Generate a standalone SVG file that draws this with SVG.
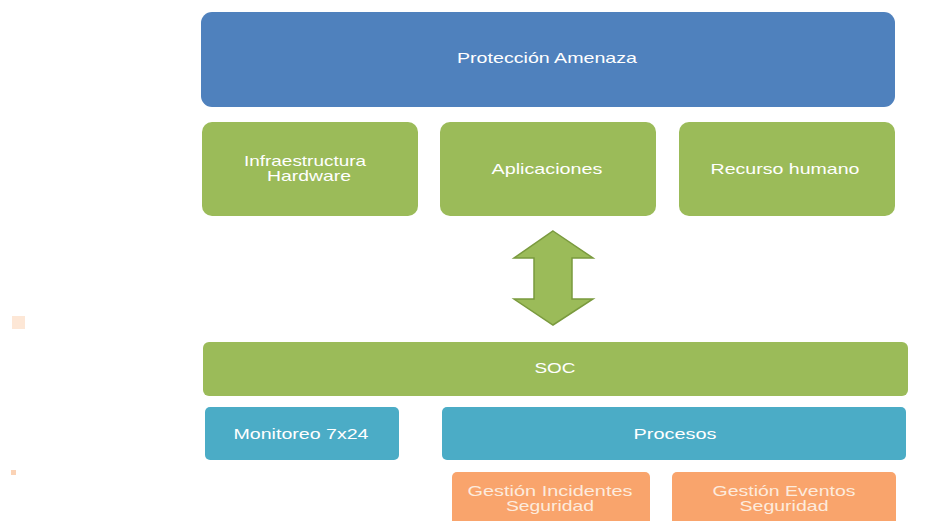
<svg xmlns="http://www.w3.org/2000/svg" width="949" height="521" viewBox="0 0 949 521">
<style>
.t{font-family:"Liberation Sans",Arial,sans-serif;font-size:14.5px;fill:#ffffff;text-anchor:middle}
.o{fill:#fdebdd}
.blue{fill:#4f81bd}.green{fill:#9bbb59}.cyan{fill:#4bacc6}.orange{fill:#f9a46c}
</style>
<rect width="949" height="521" fill="#ffffff"/>
<rect x="12" y="316" width="13" height="13" fill="#fde7d6"/>
<rect x="11" y="470" width="5" height="5" fill="#fbd3b6"/>
<g id="proteccion"><rect class="blue" x="201" y="12" width="694" height="95" rx="11"/><text class="t" x="547" y="63" textLength="180" lengthAdjust="spacingAndGlyphs">Protección Amenaza</text></g>
<g id="infraestructura"><rect class="green" x="202" y="122" width="216" height="94" rx="10"/><text class="t" x="305" y="166" textLength="122" lengthAdjust="spacingAndGlyphs">Infraestructura</text><text class="t" x="309" y="181" textLength="84" lengthAdjust="spacingAndGlyphs">Hardware</text></g>
<g id="aplicaciones"><rect class="green" x="440" y="122" width="216" height="94" rx="10"/><text class="t" x="547" y="174" textLength="111" lengthAdjust="spacingAndGlyphs">Aplicaciones</text></g>
<g id="recurso"><rect class="green" x="679" y="122" width="216" height="94" rx="10"/><text class="t" x="785" y="174" textLength="149" lengthAdjust="spacingAndGlyphs">Recurso humano</text></g>
<g id="connectors"><polygon class="green" stroke="#7a9a3e" stroke-width="1.5" points="553,231 593,258 572,258 572,299 593,299 553,325 514,299 534,299 534,258 514,258"/></g>
<g id="soc"><rect class="green" x="203" y="342" width="705" height="54" rx="6"/><text class="t" x="555" y="373" textLength="41" lengthAdjust="spacingAndGlyphs">SOC</text></g>
<g id="monitoreo"><rect class="cyan" x="205" y="407" width="194" height="53" rx="5"/><text class="t" x="301" y="439" textLength="135" lengthAdjust="spacingAndGlyphs">Monitoreo 7x24</text></g>
<g id="procesos"><rect class="cyan" x="442" y="407" width="464" height="53" rx="5"/><text class="t" x="675" y="439" textLength="83" lengthAdjust="spacingAndGlyphs">Procesos</text></g>
<g id="incidentes"><rect class="orange" x="452" y="472" width="198" height="60" rx="5"/><text class="t o" x="550" y="496" textLength="165" lengthAdjust="spacingAndGlyphs">Gestión Incidentes</text><text class="t o" x="550" y="511" textLength="88" lengthAdjust="spacingAndGlyphs">Seguridad</text></g>
<g id="eventos"><rect class="orange" x="672" y="472" width="224" height="60" rx="5"/><text class="t o" x="784" y="496" textLength="143" lengthAdjust="spacingAndGlyphs">Gestión Eventos</text><text class="t o" x="784" y="511" textLength="89" lengthAdjust="spacingAndGlyphs">Seguridad</text></g>
</svg>
